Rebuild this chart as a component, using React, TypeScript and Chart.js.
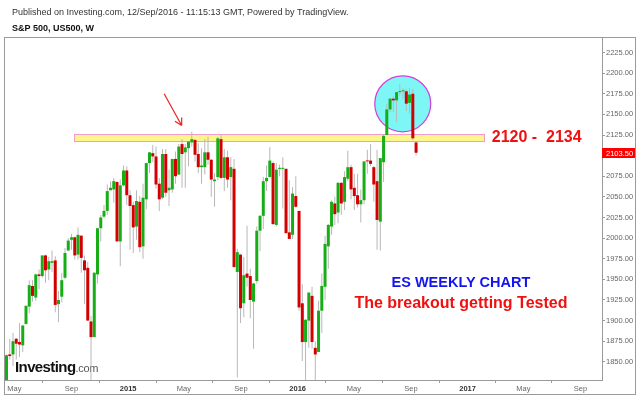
import React, { useEffect, useRef } from "react";
import { Chart, registerables } from "chart.js";

Chart.register(...registerables);

// ---- DATA (weekly candles, first week starts 2014-04-14) ----
const firstWeek = "2014-04-14";
const opens = [
  1825, 1859, 1859, 1878, 1874, 1870, 1896, 1917, 1942, 1928, 1956, 1954, 1979, 1962, 1970, 1973, 1920, 1929, 1952, 1985,
  1998, 2001, 1980, 2003, 1973, 1964, 1899, 1880, 1956, 2012, 2026, 2033, 2058, 2059, 2068, 1996, 2064, 2082, 2052, 2040,
  2014, 2044, 1990, 2047, 2091, 2103, 2099, 2066, 2049, 2102, 2058, 2059, 2096, 2077, 2114, 2104, 2109, 2116, 2119, 2102,
  2086, 2086, 2104, 2095, 2069, 2074, 2120, 2073, 2098, 2074, 2084, 1959, 1980, 1921, 1957, 1954, 1923, 1948, 2009, 2027,
  2069, 2074, 2091, 2016, 2084, 2084, 2084, 2007, 2004, 2051, 2033, 1921, 1874, 1900, 1930, 1867, 1862, 1912, 1941, 1990,
  2014, 2042, 2031, 2067, 2044, 2072, 2086, 2061, 2052, 2041, 2046, 2094, 2094, 2086, 2069, 2020, 2092, 2125, 2156, 2169,
  2167, 2177, 2178, 2178, 2164, 2175, 2116,
];
const highs = [
  1859, 1878, 1885, 1879, 1897, 1895, 1918, 1949, 1949, 1957, 1962, 1979, 1980, 1977, 1985, 1978, 1936, 1958, 1988, 2000,
  2005, 2002, 2013, 2003, 1979, 1971, 1906, 1959, 2012, 2028, 2040, 2065, 2069, 2073, 2069, 2071, 2088, 2087, 2058, 2044,
  2058, 2051, 2066, 2091, 2104, 2113, 2111, 2073, 2108, 2108, 2083, 2096, 2105, 2114, 2120, 2114, 2117, 2129, 2120, 2115,
  2109, 2120, 2123, 2096, 2079, 2123, 2126, 2108, 2106, 2098, 2096, 1987, 1981, 1977, 2015, 1963, 1946, 2014, 2028, 2074,
  2088, 2110, 2093, 2091, 2089, 2098, 2084, 2070, 2062, 2075, 2033, 1944, 1902, 1934, 1941, 1875, 1924, 1957, 2003, 2017,
  2046, 2050, 2068, 2068, 2081, 2106, 2089, 2078, 2078, 2059, 2093, 2107, 2114, 2087, 2107, 2097, 2125, 2163, 2170, 2172,
  2177, 2187, 2182, 2181, 2182, 2181, 2117,
];
const lows = [
  1808, 1853, 1845, 1853, 1856, 1862, 1895, 1909, 1923, 1924, 1938, 1952, 1946, 1949, 1959, 1910, 1898, 1922, 1950, 1984,
  1986, 1974, 1974, 1958, 1920, 1900, 1808, 1880, 1945, 1996, 2024, 2028, 2058, 2043, 1996, 1966, 2063, 2040, 1986, 1982,
  1998, 1983, 1975, 2035, 2079, 2092, 2060, 2033, 2047, 2050, 2039, 2055, 2066, 2077, 2061, 2061, 2087, 2111, 2093, 2079,
  2066, 2077, 2089, 2050, 2038, 2070, 2071, 2057, 2061, 2046, 1964, 1831, 1897, 1904, 1941, 1903, 1866, 1945, 1984, 2011,
  2057, 2074, 2016, 2014, 2075, 2036, 2006, 1999, 1999, 2037, 1912, 1851, 1800, 1867, 1866, 1802, 1862, 1885, 1925, 1963,
  2004, 2016, 2018, 2028, 2034, 2069, 2047, 2034, 2037, 2019, 2041, 2078, 2087, 2044, 1986, 1985, 2068, 2125, 2153, 2153,
  2141, 2173, 2169, 2154, 2151, 2119, 2100,
];
const closes = [
  1858, 1857, 1875, 1872, 1871, 1894, 1918, 1943, 1930, 1956, 1954, 1979, 1961, 1972, 1972, 1919, 1925, 1949, 1982, 1997,
  2001, 1979, 2004, 1976, 1961, 1900, 1880, 1958, 2012, 2025, 2033, 2057, 2061, 2069, 1996, 2064, 2082, 2052, 2039, 2013,
  2045, 1989, 2049, 2091, 2104, 2099, 2065, 2047, 2102, 2055, 2061, 2096, 2075, 2111, 2102, 2110, 2117, 2120, 2101, 2086,
  2088, 2104, 2095, 2071, 2071, 2121, 2073, 2098, 2071, 2086, 1965, 1983, 1915, 1955, 1952, 1925, 1945, 2009, 2027, 2069,
  2073, 2094, 2017, 2083, 2084, 2085, 2006, 1999, 2054, 2038, 1916, 1874, 1901, 1934, 1874, 1859, 1912, 1942, 1993, 2016,
  2044, 2029, 2067, 2042, 2074, 2086, 2059, 2051, 2041, 2046, 2093, 2093, 2090, 2065, 2022, 2097, 2124, 2156, 2169, 2167,
  2177, 2178, 2178, 2163, 2174, 2121, 2103.5,
];
const yTicks = [2225, 2200, 2175, 2150, 2125, 2075, 2050, 2025, 2000, 1975, 1950, 1925, 1900, 1875, 1850];
const xTickDates = [
  "2014-05-01", "2014-09-01", "2015-01-01", "2015-05-01", "2015-09-01", "2016-01-01",
  "2016-05-01", "2016-09-01", "2017-01-01", "2017-05-01", "2017-09-01",
];
const xTickLabels = ["May", "Sep", "2015", "May", "Sep", "2016", "May", "Sep", "2017", "May", "Sep"];
const lastPrice = 2103.5;
const zoneLow = 2118;
const zoneHigh = 2126;
const zoneText = "2120 -  2134";
const headerLine = "Published on Investing.com, 12/Sep/2016 - 11:15:13 GMT, Powered by TradingView.";
const symbolLine = "S&P 500, US500, W";
const titleText = "ES WEEKLY CHART";
const subtitleText = "The breakout getting Tested";

// ---- helpers ----
const DAY = 86400000;
const t0 = Date.parse(firstWeek + "T00:00:00Z");
const weekOf = (d: string) => (Date.parse(d + "T00:00:00Z") - t0) / (7 * DAY);
const xTickWeeks = xTickDates.map(weekOf);

// annotation anchors (week index, price)
const zoneFrom = 20.8;
const zoneTo = 146.9;
const circleAt = { w: 121.9, p: 2162.8 };
const arrowFrom = { w: 48.5, p: 2175 };
const arrowTo = { w: 53.9, p: 2136.5 };
const titleAt = { w: 139.8, p: 1946 };
const subtitleAt = { w: 139.8, p: 1920.5 };
const zoneTextAt = { w: 149.3 };

const FONT = "'Liberation Sans', Arial, sans-serif";

const decorations = {
  id: "decorations",
  beforeDatasetsDraw(chart: any) {
    const { ctx, chartArea, scales } = chart;
    const x = scales.x, y = scales.y;
    ctx.save();
    ctx.beginPath();
    ctx.rect(chartArea.left, chartArea.top, chartArea.right - chartArea.left, chartArea.bottom - chartArea.top);
    ctx.clip();
    // support zone
    const bx0 = Math.round(x.getPixelForValue(zoneFrom)) + 0.5;
    const bx1 = Math.round(x.getPixelForValue(zoneTo)) + 0.5;
    const by0 = Math.round(y.getPixelForValue(zoneHigh)) + 0.5;
    const by1 = Math.round(y.getPixelForValue(zoneLow)) + 0.5;
    ctx.fillStyle = "#fdf68c";
    ctx.fillRect(bx0, by0, bx1 - bx0, by1 - by0);
    ctx.strokeStyle = "#f49ac6";
    ctx.lineWidth = 1;
    ctx.strokeRect(bx0, by0, bx1 - bx0, by1 - by0);
    // circle
    const cx = x.getPixelForValue(circleAt.w);
    const cy = y.getPixelForValue(circleAt.p);
    ctx.beginPath();
    ctx.ellipse(cx, cy, 28, 28, 0, 0, Math.PI * 2);
    ctx.fillStyle = "#7ff6f6";
    ctx.fill();
    ctx.strokeStyle = "#d040d8";
    ctx.lineWidth = 1.2;
    ctx.stroke();
    // watermark
    ctx.fillStyle = "#111";
    ctx.font = `bold 15px ${FONT}`;
    ctx.textBaseline = "alphabetic";
    (ctx as any).letterSpacing = "-0.6px";
    ctx.fillText("Investing", 15, 372);
    const w = ctx.measureText("Investing").width;
    ctx.fillStyle = "#555";
    ctx.font = `11px ${FONT}`;
    (ctx as any).letterSpacing = "-0.3px";
    ctx.fillText(".com", 15 + w, 372);
    (ctx as any).letterSpacing = "0px";
    ctx.restore();
  },
  afterDraw(chart: any) {
    const { ctx, chartArea, scales } = chart;
    const x = scales.x, y = scales.y;
    ctx.save();
    // header
    ctx.fillStyle = "#333";
    ctx.textBaseline = "middle";
    ctx.textAlign = "left";
    ctx.font = `9px ${FONT}`;
    ctx.fillText(headerLine, 12, 13);
    ctx.fillStyle = "#111";
    ctx.font = `bold 9px ${FONT}`;
    ctx.fillText(symbolLine, 12, 29);
    // outer frame
    ctx.strokeStyle = "#9a9a9a";
    ctx.lineWidth = 1;
    ctx.strokeRect(4.5, 37.5, 631, 357);
    // arrow
    const ax0 = x.getPixelForValue(arrowFrom.w), ay0 = y.getPixelForValue(arrowFrom.p);
    const ax1 = x.getPixelForValue(arrowTo.w), ay1 = y.getPixelForValue(arrowTo.p);
    ctx.strokeStyle = "#f02020";
    ctx.lineWidth = 1.2;
    ctx.beginPath();
    ctx.moveTo(ax0, ay0);
    ctx.lineTo(ax1, ay1);
    const ang = Math.atan2(ay1 - ay0, ax1 - ax0);
    for (const s of [-1, 1]) {
      ctx.moveTo(ax1, ay1);
      ctx.lineTo(ax1 - 8 * Math.cos(ang + s * 0.5), ay1 - 8 * Math.sin(ang + s * 0.5));
    }
    ctx.stroke();
    // zone text
    const zy = (y.getPixelForValue(zoneHigh) + y.getPixelForValue(zoneLow)) / 2;
    ctx.fillStyle = "#f01010";
    ctx.font = `bold 16px ${FONT}`;
    ctx.textAlign = "left";
    ctx.fillText(zoneText, x.getPixelForValue(zoneTextAt.w), zy + 0.5);
    // titles
    ctx.textAlign = "center";
    ctx.fillStyle = "#1414ee";
    ctx.font = `bold 14.5px ${FONT}`;
    ctx.fillText(titleText, x.getPixelForValue(titleAt.w), y.getPixelForValue(titleAt.p));
    ctx.fillStyle = "#f01010";
    ctx.font = `bold 16px ${FONT}`;
    ctx.fillText(subtitleText, x.getPixelForValue(subtitleAt.w), y.getPixelForValue(subtitleAt.p));
    // last price label
    const py = Math.round(y.getPixelForValue(lastPrice));
    ctx.fillStyle = "#ff0000";
    ctx.fillRect(chartArea.right, py - 5, 33, 10);
    ctx.fillStyle = "#ffffff";
    ctx.font = `7.5px ${FONT}`;
    ctx.textAlign = "left";
    ctx.fillText(lastPrice.toFixed(2), chartArea.right + 4, py + 0.5);
    ctx.restore();
  },
};

export default function App() {
  const ref = useRef<HTMLCanvasElement>(null);
  useEffect(() => {
    if (!ref.current) return;
    Chart.defaults.font.family = FONT;
    const wicks = opens.map((_, i) => ({ x: i, y: [lows[i], highs[i]] }));
    const bodies = opens.map((o, i) => ({ x: i, y: [o, closes[i]] }));
    const bodyColors = opens.map((o, i) => (closes[i] >= o ? "#17ad17" : "#d20000"));
    const chart = new Chart(ref.current, {
      type: "bar",
      data: {
        datasets: [
          {
            label: "bodies",
            data: bodies as any,
            backgroundColor: bodyColors,
            barThickness: 3,
            minBarLength: 1,
            grouped: false,
            inflateAmount: 0,
            borderWidth: 0,
            clip: 0,
            order: 1,
          } as any,
          {
            label: "wicks",
            data: wicks as any,
            backgroundColor: "#b8b8b8",
            barThickness: 1,
            grouped: false,
            inflateAmount: 0,
            borderWidth: 0,
            clip: 0,
            order: 2,
          } as any,
        ],
      },
      options: {
        responsive: false,
        animation: false,
        devicePixelRatio: 1,
        layout: { padding: { left: 5, top: 37, right: 0, bottom: 0 } },
        plugins: { legend: { display: false }, tooltip: { enabled: false } },
        scales: {
          x: {
            type: "linear",
            offset: false,
            min: -0.46,
            max: 183.2,
            grid: { display: true, drawOnChartArea: false, drawTicks: true, tickLength: 3, color: "#9a9a9a" },
            border: { display: true, color: "#9a9a9a" },
            ticks: {
              autoSkip: false,
              maxRotation: 0,
              padding: 1,
              color: (c: any) => (/^\d{4}$/.test(xTickLabels[c.index] || "") ? "#333" : "#666"),
              font: (c: any) => ({ size: 7.5, weight: /^\d{4}$/.test(xTickLabels[c.index] || "") ? "bold" : "normal" }),
              callback: (_v: any, i: number) => xTickLabels[i],
            },
            afterBuildTicks: (s: any) => {
              s.ticks = xTickWeeks.map((v) => ({ value: v }));
            },
            afterFit: (s: any) => {
              s.height = 16;
            },
          } as any,
          y: {
            type: "linear",
            position: "right",
            min: 1828,
            max: 2243.8,
            grid: { display: true, drawOnChartArea: false, drawTicks: true, tickLength: 3, color: "#9a9a9a" },
            border: { display: true, color: "#9a9a9a" },
            ticks: {
              padding: 1,
              color: "#666",
              font: { size: 7.5 },
              callback: (v: any) => Number(v).toFixed(2),
            },
            afterBuildTicks: (s: any) => {
              s.ticks = yTicks.map((v) => ({ value: v }));
            },
            afterFit: (s: any) => {
              s.width = 38;
            },
          } as any,
        },
      },
      plugins: [decorations],
    });
    return () => chart.destroy();
  }, []);
  return (
    <div style={{ position: "fixed", left: 0, top: 0, width: 640, height: 396, background: "#fff" }}>
      <canvas ref={ref} width={640} height={396} style={{ display: "block", width: 640, height: 396 }} />
    </div>
  );
}
